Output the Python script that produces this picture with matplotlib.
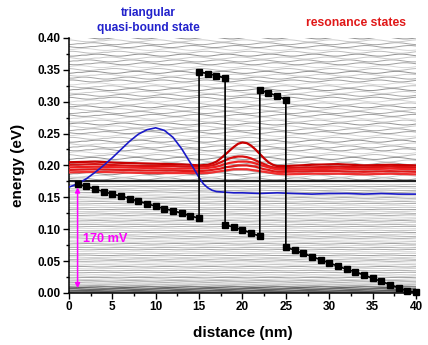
import numpy as np
import matplotlib
matplotlib.use("Agg")
import matplotlib.pyplot as plt
from matplotlib.ticker import MultipleLocator, FormatStrFormatter

plt.rcParams['font.family'] = ['Liberation Sans', 'DejaVu Sans']
plt.rcParams['font.weight'] = 'bold'

# conduction band profile (eV), squares at every nm, doubled at the barrier edges
band_x = [1, 2, 3, 4, 5, 6, 7, 8, 9, 10, 11, 12, 13, 14, 15,
          15, 16, 17, 18,
          18, 19, 20, 21, 22,
          22, 23, 24, 25,
          25, 26, 27, 28, 29, 30, 31, 32, 33, 34, 35, 36, 37, 38, 39, 40]
band_e = [0.171, 0.167, 0.163, 0.159, 0.155, 0.152, 0.148, 0.144, 0.140, 0.136,
          0.132, 0.129, 0.125, 0.121, 0.117,
          0.347, 0.344, 0.341, 0.337,
          0.107, 0.103, 0.099, 0.094, 0.089,
          0.318, 0.314, 0.309, 0.303,
          0.072, 0.067, 0.062, 0.057, 0.052, 0.047, 0.042, 0.037, 0.033, 0.028,
          0.023, 0.018, 0.013, 0.008, 0.003, 0.001]

# triangular quasi-bound state
blue_x = [0, 1, 2, 3, 4, 5, 6, 7, 8, 9, 10, 11, 12, 13, 14, 15, 15.5, 16, 16.5,
          17, 18, 19, 20, 22, 24, 26, 28, 30, 32, 34, 36, 38, 40]
blue_e = [0.166, 0.171, 0.179, 0.189, 0.200, 0.212, 0.225, 0.238, 0.249, 0.256,
          0.259, 0.255, 0.244, 0.226, 0.204, 0.181, 0.171, 0.165, 0.161,
          0.159, 0.158, 0.157, 0.157, 0.156, 0.157, 0.156, 0.155, 0.156, 0.156,
          0.155, 0.156, 0.155, 0.155]

# resonance states between the barriers
red_x = [0, 3, 6, 9, 12, 14, 15, 16, 16.5, 17, 17.5, 18, 18.5, 19, 19.5, 20,
         20.5, 21, 21.5, 22, 22.5, 23, 23.5, 24, 25, 28, 31, 34, 37, 40]
red_1 = [0.205, 0.206, 0.204, 0.203, 0.202, 0.201, 0.200, 0.201, 0.203, 0.206,
         0.211, 0.217, 0.223, 0.229, 0.234, 0.236, 0.235, 0.231, 0.225, 0.218,
         0.211, 0.205, 0.201, 0.199, 0.199, 0.201, 0.202, 0.200, 0.201, 0.200]
red_2 = [0.201, 0.202, 0.200, 0.199, 0.199, 0.198, 0.198, 0.199, 0.200, 0.202,
         0.205, 0.208, 0.211, 0.213, 0.214, 0.214, 0.213, 0.211, 0.208, 0.205,
         0.202, 0.199, 0.197, 0.196, 0.196, 0.197, 0.198, 0.197, 0.198, 0.197]
red_3 = [0.197, 0.198, 0.197, 0.196, 0.195, 0.195, 0.195, 0.196, 0.197, 0.198,
         0.200, 0.202, 0.204, 0.205, 0.206, 0.206, 0.206, 0.205, 0.203, 0.201,
         0.199, 0.197, 0.195, 0.194, 0.193, 0.194, 0.195, 0.194, 0.195, 0.194]
red_4 = [0.193, 0.194, 0.193, 0.192, 0.192, 0.191, 0.191, 0.192, 0.193, 0.194,
         0.195, 0.197, 0.198, 0.199, 0.200, 0.200, 0.200, 0.199, 0.198, 0.196,
         0.194, 0.193, 0.191, 0.190, 0.190, 0.191, 0.191, 0.190, 0.191, 0.190]
red_5 = [0.189, 0.190, 0.189, 0.188, 0.188, 0.188, 0.188, 0.188, 0.189, 0.190,
         0.191, 0.192, 0.193, 0.194, 0.194, 0.194, 0.194, 0.193, 0.192, 0.191,
         0.190, 0.189, 0.188, 0.187, 0.186, 0.187, 0.187, 0.186, 0.187, 0.186]
red_states = [red_1, red_2, red_3, red_4, red_5]
red_colors = ['#c80000', '#d81010', '#ee2020', '#e01818', '#f03030']

# continuum levels below and above the emitter Fermi level
levels_low = [0.001, 0.002, 0.003, 0.004, 0.005, 0.0065, 0.008, 0.0095, 0.011,
              0.013, 0.015, 0.017, 0.019, 0.0215, 0.024, 0.0265, 0.029, 0.032,
              0.035, 0.038, 0.041, 0.044, 0.047, 0.050, 0.053, 0.056, 0.059,
              0.062, 0.065, 0.068, 0.071, 0.074, 0.077, 0.080, 0.083, 0.086,
              0.089, 0.092, 0.095, 0.098, 0.101, 0.104, 0.107, 0.110, 0.113,
              0.116, 0.119, 0.122, 0.125, 0.128, 0.131, 0.134, 0.137, 0.140,
              0.143, 0.146, 0.149, 0.152, 0.155, 0.158, 0.161, 0.164, 0.167,
              0.170]
levels_high = [0.179, 0.183, 0.187, 0.191, 0.195, 0.199, 0.203, 0.207, 0.211,
               0.2155, 0.220, 0.2245, 0.229, 0.2335, 0.238, 0.2425, 0.247,
               0.2515, 0.256, 0.2605, 0.265, 0.2695, 0.274, 0.2785, 0.283,
               0.2875, 0.292, 0.2965, 0.301, 0.3055, 0.310, 0.3145, 0.319,
               0.3235, 0.328, 0.3325, 0.337, 0.3415, 0.346, 0.3505, 0.355,
               0.3595, 0.364, 0.3685, 0.373, 0.3775, 0.382, 0.3865, 0.391,
               0.3955, 0.400]
fermi_level = 0.175

# one period of the wavefunction ripple, sampled every 0.5 nm
ripple = [0.0, 0.59, 0.95, 0.95, 0.59, 0.0, -0.59, -0.95, -0.95, -0.59]
shifts = [0, 5, 2, 7, 4, 9, 1, 6, 3, 8]
grays = ['#a6a6a6', '#cbcbcb', '#929292', '#bcbcbc', '#d6d6d6', '#9e9e9e']

x_grid = np.linspace(0, 40, 81)
wave = np.tile(ripple, 9)[:81]

fig = plt.figure(figsize=(4.28, 3.45), dpi=100)
ax = fig.add_axes([0.161, 0.151, 0.811, 0.739])

for i, e in enumerate(levels_low):
    c = '#555555' if e < 0.01 else grays[i % len(grays)]
    ax.plot(x_grid, e + 0.0004 * np.roll(wave, shifts[i % 10]),
            color=c, lw=0.6, zorder=1)
for i, e in enumerate(levels_high):
    ax.plot(x_grid, e + 0.0016 * np.roll(wave, shifts[i % 10]),
            color=grays[i % len(grays)], lw=0.7, zorder=1)
ax.axhline(fermi_level, color='#202020', lw=1.6, zorder=2)

for ys, c in zip(red_states, red_colors):
    ax.plot(red_x, ys, color=c, lw=1.6, zorder=3)
ax.plot(blue_x, blue_e, color='#1a1ac8', lw=1.2, zorder=3)

ax.plot(band_x, band_e, color='black', lw=1.2, marker='s', ms=4.3,
        zorder=4, clip_on=False)

ax.annotate('', xy=(1, 0.003), xytext=(1, 0.170),
            arrowprops=dict(arrowstyle='<|-|>', color='#ff00ff', lw=1.1,
                            mutation_scale=7), zorder=5)
ax.text(1.6, 0.085, '170 mV', color='#ff00ff', fontsize=9.2,
        fontweight='bold', va='center', ha='left', zorder=5)

fig.text(148 / 428, 1 - 13 / 345, 'triangular', color='#2222cc',
         fontsize=8.6, fontweight='bold', ha='center', va='center')
fig.text(148 / 428, 1 - 28 / 345, 'quasi-bound state', color='#2222cc',
         fontsize=8.6, fontweight='bold', ha='center', va='center')
fig.text(356 / 428, 1 - 23 / 345, 'resonance states', color='#e01818',
         fontsize=8.8, fontweight='bold', ha='center', va='center')

ax.set_xlim(0, 40)
ax.set_ylim(0, 0.40)
ax.set_xlabel('distance (nm)', fontsize=11, fontweight='bold', labelpad=9)
ax.set_ylabel('energy (eV)', fontsize=11, fontweight='bold', labelpad=9)
ax.xaxis.set_major_locator(MultipleLocator(5))
ax.xaxis.set_minor_locator(MultipleLocator(2.5))
ax.yaxis.set_major_locator(MultipleLocator(0.05))
ax.yaxis.set_minor_locator(MultipleLocator(0.025))
ax.yaxis.set_major_formatter(FormatStrFormatter('%.2f'))
ax.tick_params(which='major', direction='out', length=4, width=1,
               labelsize=8.5, pad=2)
ax.tick_params(which='minor', direction='out', length=2.5, width=1)
for lab in ax.get_xticklabels() + ax.get_yticklabels():
    lab.set_fontweight('bold')
ax.spines['top'].set_visible(False)
ax.spines['right'].set_visible(False)
ax.spines['left'].set_linewidth(1.1)
ax.spines['bottom'].set_linewidth(1.1)

fig.savefig('out.png', dpi=100)
